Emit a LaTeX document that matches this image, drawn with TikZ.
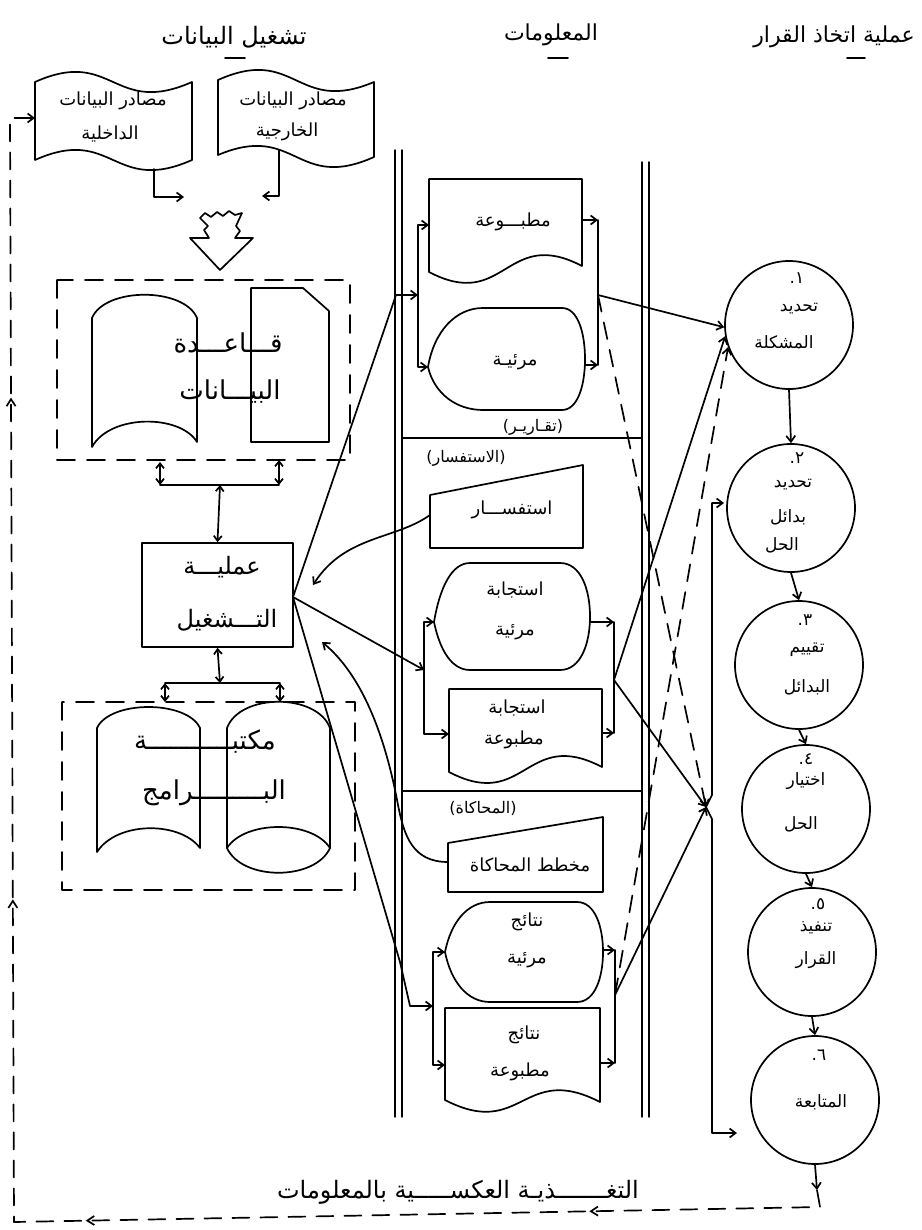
\documentclass[tikz,border=0pt]{standalone}
\usepackage{fontspec}
\usetikzlibrary{arrows.meta,decorations.markings,calc}
\newfontfamily\arabicfont[Script=Arabic]{DejaVu Sans}
\TeXXeTstate=1
\newcommand{\AR}[1]{\beginR#1\endR}
\newcommand{\DispShape}[7]{%
  \draw (#1,#2) .. controls ({#1+6},{#2-0.6*(#2-#3)}) and ({#5-0.5*(#5-#1)},#3) .. (#5,#3)
   -- (#6,#3) .. controls ({#6+0.7*(#7-#6)},#3) and (#7,{#3+0.25*(#4-#3)}) .. (#7,{0.5*(#3+#4)})
   .. controls (#7,{#4-0.25*(#4-#3)}) and ({#6+0.7*(#7-#6)},#4) .. (#6,#4)
   -- (#5,#4) .. controls ({#5-0.5*(#5-#1)},#4) and ({#1+6},{#2+0.6*(#4-#2)}) .. (#1,#2) -- cycle;}
\newcommand{\DocShape}[5]{%
  \draw (#1,#4) -- (#1,#3) -- (#2,#3) -- (#2,#5)
   .. controls ({0.5*(#1+#2)},{#5-40}) and ({0.5*(#1+#2)},{#4+40}) .. (#1,#4) -- cycle;}
\begin{document}
\begin{tikzpicture}[x=1pt,y=-1pt,line width=1.7pt,line join=round,line cap=round,
  tx/.style={inner sep=0pt,align=center,font=\arabicfont\fontsize{18}{22}\selectfont},
  txc/.style={tx,font=\arabicfont\fontsize{17}{20}\selectfont},
  txs/.style={tx,font=\arabicfont\fontsize{16}{19}\selectfont},
  txh/.style={tx,font=\arabicfont\fontsize{22}{26}\selectfont},
  txb/.style={tx,font=\arabicfont\fontsize{26}{30}\selectfont},
  arr/.style={-{Straight Barb[length=6pt,width=9pt]}},
  arrb/.style={{Straight Barb[length=5pt,width=8pt]}-{Straight Barb[length=5pt,width=8pt]}},
  dsh/.style={dash pattern=on 17pt off 11pt},
  frm/.style={dash pattern=on 18pt off 12pt},
  circ/.style={draw,circle,minimum size=128pt,inner sep=0pt},
  pipe/.style={line width=1.4pt},
  fbm/.style={postaction={decorate},decoration={markings,
    mark=at position 0.127 with {\arrow{Straight Barb[length=7pt,width=9pt]}},
    mark=at position 0.385 with {\arrow{Straight Barb[length=7pt,width=9pt]}},
    mark=at position 0.587 with {\arrow{Straight Barb[length=7pt,width=9pt]}},
    mark=at position 0.844 with {\arrow{Straight Barb[length=7pt,width=9pt]}}}}]
\useasboundingbox (0,0) rectangle (921,1230);

% ---------- headers
\node[txh,font=\arabicfont\fontsize{24}{28}\selectfont] (h1) at (234,37) {\AR{تشغيل البيانات}};
\node[txh] (h2) at (551,35) {\AR{المعلومات}};
\node[txh] (h3) at (834,37) {\AR{عملية اتخاذ القرار}};
\draw (225,58) -- (245,58);
\draw (548,58) -- (568,58);
\draw (847,58) -- (865,58);

% ---------- data sources (punched tapes)
\draw (35,82) .. controls (113,47) and (113,117) .. (192,82) -- (192,160)
  .. controls (113,195) and (113,125) .. (35,160) -- cycle;
\draw (218,80) .. controls (296,45) and (296,115) .. (374,82) -- (374,157)
  .. controls (296,192) and (296,122) .. (218,155) -- cycle;
\node[tx] (t1a) at (113,101) {\AR{مصادر البيانات}};
\node[tx] (t1b) at (110,134) {\AR{الداخلية}};
\node[tx] (t2a) at (293,101) {\AR{مصادر البيانات}};
\node[tx] (t2b) at (287,132) {\AR{الخارجية}};
\coordinate (t1out) at (154,169);
\coordinate (t2out) at (279,150);
\coordinate (t1w) at (35,118);
\coordinate (mA) at (184,197);
\coordinate (mB) at (262,196);
\draw[arr] (t1out) |- (mA);
\draw[arr] (t2out) |- (mB);

% ---------- big transfer arrow
\draw (200,218) -- (205,213) -- (211,217) -- (217,212) -- (223,216) -- (229,211)
  -- (235,215) -- (242,213) -- (236,226) -- (240,231) -- (235,238) -- (253,238)
  -- (220,270) -- (190,238) -- (209,238) -- (204,230) -- (208,226) -- cycle;

% ---------- data base
\draw[frm] (57,280) rectangle (350,460);
\draw (92,447) -- (92,318) .. controls (105,287) and (184,287) .. (197,318) -- (197,442)
  .. controls (180,414) and (110,414) .. (92,447);
\draw (251,442) -- (251,288) -- (303,288) -- (329,311) -- (329,442) -- cycle;
\node[txb] (dba) at (228,343) {\AR{قـــاعـــدة}};
\node[txb] (dbb) at (230,392) {\AR{البيـــانات}};
\coordinate (dbL) at (160,462);
\coordinate (dbR) at (279,460);
\coordinate (dbLb) at (160,485);
\coordinate (dbRb) at (279,485);
\coordinate (dbM) at (220,485);
\draw[arrb] (dbLb) -- (dbL);
\draw[arrb] (dbRb) -- (dbR);
\draw (dbLb) -- (dbRb);

% ---------- processing
\node[draw,minimum width=151pt,minimum height=104pt,inner sep=0pt] (P) at (217.5,595) {};
\node[txb,font=\arabicfont\fontsize{24}{28}\selectfont] (pa) at (222,567) {\AR{عمليـــة}};
\node[txb,font=\arabicfont\fontsize{24}{28}\selectfont] (pb) at (227,620) {\AR{التـــشغيل}};
\draw[arrb] (dbM) -- (P.north);
\coordinate (Pout) at (293,597);
\coordinate (plM) at (220,683);
\coordinate (plL) at (165,683);
\coordinate (plR) at (280,683);
\coordinate (plLb) at (165,702);
\coordinate (plRb) at (280,702);
\draw[arrb] (P.south) -- (plM);
\draw (plL) -- (plR);
\draw[arrb] (plL) -- (plLb);
\draw[arrb] (plR) -- (plRb);

% ---------- program library
\draw[frm] (62,702) rectangle (355,890);
\draw (97,852) -- (97,728) .. controls (110,700) and (187,700) .. (200,728) -- (200,848)
  .. controls (180,821) and (117,821) .. (97,852);
\draw (227,848) -- (227,728) .. controls (240,693) and (317,693) .. (330,728) -- (330,848)
  .. controls (315,881) and (242,881) .. (227,848);
\draw (227,848) .. controls (245,820) and (312,820) .. (330,848);
\node[txb] (pla) at (205,742) {\AR{مكتبـــــــــــة}};
\node[txb] (plb) at (214,793) {\AR{البـــــــــرامج}};

% ---------- information column (pipes)
\draw[pipe] (395,150) -- (395,1117);
\draw[pipe] (402,150) -- (402,1117);
\draw[pipe] (642,162) -- (642,1117);
\draw[pipe] (649,162) -- (649,1117);
\draw[pipe] (402,438) -- (642,438);
\draw[pipe] (402,791) -- (642,791);

% ---- reports
\DocShape{429}{582}{179}{272}{266}
\DispShape{428}{367}{308}{410}{483}{562}{585}
\node[tx] (r1t) at (513,222) {\AR{مطبـــوعة}};
\node[tx] (r2t) at (515,362) {\AR{مرئيـة}};
\node[txs] (rl) at (533,427) {\AR{(تقـاريـر)}};
\coordinate (r1in) at (418,295);
\coordinate (r1pipe) at (396,295);
\coordinate (r1doc) at (429,225);
\coordinate (r1disp) at (428,367);
\coordinate (r1docR) at (582,220);
\coordinate (r1dispR) at (585,365);
\coordinate (r1a) at (598,220);
\coordinate (r1b) at (598,365);
\coordinate (r1out) at (598,295);
\draw[arr] (Pout) -- (r1pipe) -- (r1in);
\draw[arr] (r1in) |- (r1doc);
\draw[arr] (r1in) |- (r1disp);
\draw[arr] (r1docR) -- (r1a);
\draw[arr] (r1dispR) -- (r1b);
\draw (r1a) -- (r1out) -- (r1b);

% ---- query
\node[txs] (ql) at (466,458) {\AR{(الاستفسار)}};
\draw (430,548) -- (430,495) -- (583,465) -- (583,548) -- cycle;
\node[tx] (qt) at (512,510) {\AR{استفســـار}};
\DispShape{434}{622}{563}{670}{470}{560}{590}
\node[tx] (q2a) at (515,590) {\AR{استجابة}};
\node[tx] (q2b) at (515,632) {\AR{مرئية}};
\DocShape{449}{602}{689}{772}{767}
\node[tx] (q3a) at (517,708) {\AR{استجابة}};
\node[tx] (q3b) at (514,740) {\AR{مطبوعة}};
\coordinate (qw) at (430,515);
\coordinate (Pq) at (313,585);
\draw[arr] (qw) .. controls (395,540) and (345,535) .. (Pq);
\coordinate (q_in) at (424,670);
\coordinate (q2L) at (434,622);
\coordinate (q3L) at (449,734);
\coordinate (q2R) at (590,622);
\coordinate (q3R) at (602,733);
\coordinate (qa) at (614,622);
\coordinate (qb) at (614,733);
\coordinate (q_out) at (614,680);
\draw[arr] (Pout) -- (q_in);
\draw[arr] (q_in) |- (q2L);
\draw[arr] (q_in) |- (q3L);
\draw[arr] (q2R) -- (qa);
\draw[arr] (q3R) -- (qb);
\draw (qa) -- (qb);

% ---- simulation
\node[txs] (sl) at (483,808) {\AR{(المحاكاة)}};
\draw (448,892) -- (448,843) -- (603,817) -- (603,892) -- cycle;
\node[tx] (st) at (530,865) {\AR{مخطط المحاكاة}};
\DispShape{445}{952}{902}{1002}{490}{577}{603}
\node[tx] (s2a) at (527,922) {\AR{نتائج}};
\node[tx] (s2b) at (527,960) {\AR{مرئية}};
\DocShape{445}{600}{1008}{1100}{1102}
\node[tx] (s3a) at (524,1035) {\AR{نتائج}};
\node[tx] (s3b) at (520,1072) {\AR{مطبوعة}};
\coordinate (sw) at (448,862);
\coordinate (Ps) at (322,642);
\draw[arr] (sw) .. controls (412,862) and (404,835) .. (398,805)
  .. controls (385,735) and (362,675) .. (Ps);
\coordinate (s_in) at (433,1006);
\coordinate (sp1) at (400,962);
\coordinate (sp2) at (410,1006);
\coordinate (s2L) at (445,952);
\coordinate (s3L) at (445,1065);
\coordinate (s2R) at (603,950);
\coordinate (s3R) at (600,1063);
\coordinate (sa) at (615,950);
\coordinate (sb) at (615,1063);
\coordinate (s_out) at (615,995);
\draw[arr] (Pout) -- (sp1) -- (sp2) -- (s_in);
\draw[arr] (s_in) |- (s2L);
\draw[arr] (s_in) |- (s3L);
\draw[arr] (s2R) -- (sa);
\draw[arr] (s3R) -- (sb);
\draw (sa) -- (sb);

% ---------- decision circles
\node[circ] (C1) at (789,325) {};
\node[circ] (C2) at (791,508) {};
\node[circ] (C3) at (799,665) {};
\node[circ] (C4) at (806,809) {};
\node[circ] (C5) at (812,952) {};
\node[circ] (C6) at (815,1100) {};
\node[txc] (c1n) at ($(C1)+(8,-47)$) {١.};
\node[txc] (c1a) at ($(C1)+(10,-16)$) {\AR{تحديد}};
\node[txc] (c1b) at ($(C1)+(-5,17)$) {\AR{المشكلة}};
\node[txc] (c2n) at ($(C2)+(6,-50)$) {٢.};
\node[txc] (c2a) at ($(C2)+(2,-23)$) {\AR{تحديد}};
\node[txc] (c2b) at ($(C2)+(-3,9)$) {\AR{بدائل}};
\node[txc] (c2c) at ($(C2)+(-9,37)$) {\AR{الحل}};
\node[txc] (c3n) at ($(C3)+(6,-45)$) {٣.};
\node[txc] (c3a) at ($(C3)+(8,-15)$) {\AR{تقييم}};
\node[txc] (c3b) at ($(C3)+(8,22)$) {\AR{البدائل}};
\node[txc] (c4n) at ($(C4)+(0,-50)$) {٤.};
\node[txc] (c4a) at ($(C4)+(0,-28)$) {\AR{اختيار}};
\node[txc] (c4b) at ($(C4)+(-5,15)$) {\AR{الحل}};
\node[txc] (c5n) at ($(C5)+(6,-48)$) {٥.};
\node[txc] (c5a) at ($(C5)+(4,-24)$) {\AR{تنفيذ}};
\node[txc] (c5b) at ($(C5)+(4,8)$) {\AR{القرار}};
\node[txc] (c6n) at ($(C6)+(4,-45)$) {٦.};
\node[txc] (c6a) at ($(C6)+(6,2)$) {\AR{المتابعة}};
\draw[arr] (C1.south) -- (C2.north);
\draw[arr] (C2.south) -- (C3.north);
\draw[arr] (C3.south) -- (C4.north);
\draw[arr] (C4.south) -- (C5.north);
\draw[arr] (C5.south) -- (C6.north);

% ---------- links to decisions
\coordinate (J) at (706,807);
\coordinate (C2in) at (724,503);
\coordinate (C6in) at (737,1133);
\draw[arr] (r1out) -- (C1.182);
\draw[arr] (q_out) -- (C1.190);
\draw[arr] (q_out) -- (J);
\draw[arr] (s_out) -- (J);
\draw[dsh,arr] (r1out) -- (J);
\draw[dsh,arr] (s_out) -- (C1.200);
\draw[arr] (J) -- ++(6,-12) |- (C2in);
\draw[arr] (J) -- ++(6,12) |- (C6in);

% ---------- feedback
\coordinate (fbA) at (817,1190);
\coordinate (fbB) at (820,1207);
\coordinate (fbC) at (14,1222);
\coordinate (fbD) at (10,118);
\draw[arr] (C6.south) -- (fbA);
\draw[dsh,fbm,arr] (fbA) -- (fbB) -- (fbC) -- (fbD) -- (t1w);
\node[tx,font=\arabicfont\fontsize{24}{28}\selectfont] (fbt) at (458,1192)
  {\AR{التغـــــــذيـة العكســـــية بالمعلومات}};
\end{tikzpicture}
\end{document}
